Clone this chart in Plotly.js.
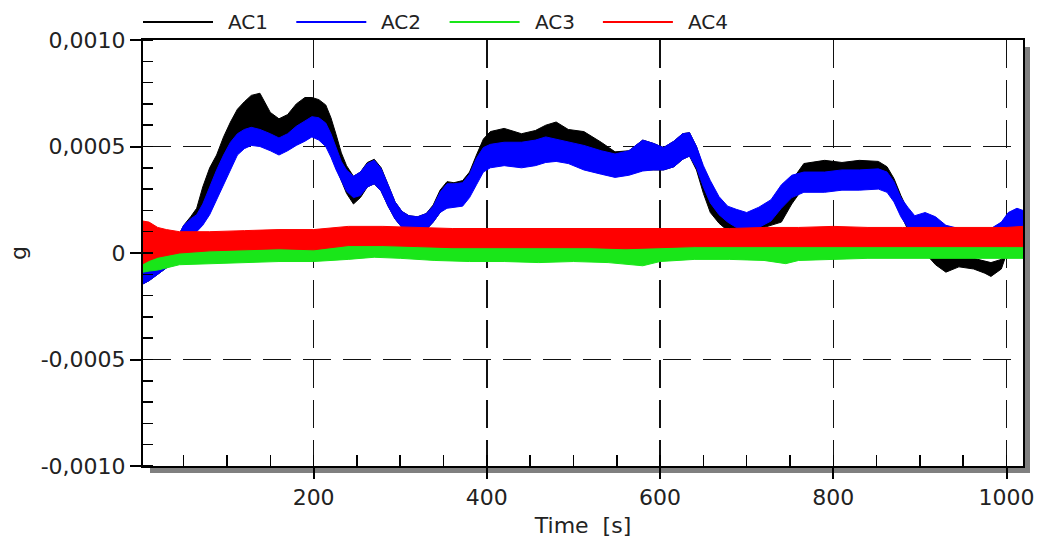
<!DOCTYPE html>
<html>
<head>
<meta charset="utf-8">
<script src="https://cdn.plot.ly/plotly-3.0.1.min.js"></script>
<style>
  html, body { margin: 0; padding: 0; background: #ffffff; }
  #chart { width: 1041px; height: 542px; }
</style>
</head>
<body>
<div id="chart"></div>
<script>
// Acceleration records of four channels; each channel is a noisy signal,
// drawn as the band between its upper and lower envelope (g) over time (s).
const seriesNames = ['AC1', 'AC2', 'AC3', 'AC4'];
const seriesColors = ['#000000', '#0000ff', '#19e619', '#ff0000'];

// Shared time base for AC1 and AC2
const timeAC12 = [
  3, 10, 20, 30, 40, 50, 58, 65, 72, 80,
  88, 96, 104, 112, 120, 128, 138, 150, 160, 170,
  180, 190, 198, 206, 214, 220, 226, 232, 238, 246,
  254, 262, 270, 278, 286, 294, 302, 310, 320, 330,
  338, 346, 354, 362, 372, 380, 388, 396, 404, 420,
  440, 456, 468, 480, 494, 512, 532, 548, 564, 580,
  592, 604, 616, 626, 634, 642, 650, 658, 668, 678,
  688, 700, 714, 728, 740, 752, 766, 790, 810, 830,
  852, 862, 870, 878, 886, 894, 906, 918, 930, 945,
  962, 975, 982, 994, 1002, 1012, 1019
];

const ac1Upper = [
  -0.6e-4, -0.6e-4, -0.3e-4, 0.0e-4, 0.5e-4, 1.3e-4, 1.7e-4, 2.1e-4, 3.1e-4, 4.0e-4,
  4.6e-4, 5.45e-4, 6.15e-4, 6.75e-4, 7.1e-4, 7.4e-4, 7.5e-4, 6.6e-4, 6.3e-4, 6.5e-4,
  7.0e-4, 7.3e-4, 7.3e-4, 7.2e-4, 6.95e-4, 6.35e-4, 5.55e-4, 4.7e-4, 4.1e-4, 3.6e-4,
  3.8e-4, 4.25e-4, 4.4e-4, 4.0e-4, 3.2e-4, 2.4e-4, 1.95e-4, 1.75e-4, 1.7e-4, 1.85e-4,
  2.25e-4, 2.95e-4, 3.35e-4, 3.3e-4, 3.4e-4, 3.8e-4, 4.6e-4, 5.35e-4, 5.7e-4, 5.85e-4,
  5.6e-4, 5.75e-4, 6.0e-4, 6.15e-4, 5.8e-4, 5.7e-4, 5.2e-4, 4.75e-4, 4.8e-4, 5.3e-4,
  5.15e-4, 4.95e-4, 5.25e-4, 5.6e-4, 5.65e-4, 5.0e-4, 4.0e-4, 3.2e-4, 2.3e-4, 1.8e-4,
  1.6e-4, 1.7e-4, 2.0e-4, 2.2e-4, 2.3e-4, 3.4e-4, 4.2e-4, 4.35e-4, 4.25e-4, 4.35e-4,
  4.3e-4, 4.05e-4, 3.5e-4, 2.7e-4, 2.0e-4, 1.4e-4, 0.9e-4, 0.2e-4, -0.2e-4, -0.15e-4,
  -0.25e-4, -0.4e-4, -0.45e-4, -0.3e-4, 1.0e-4, 1.6e-4, 1.6e-4
];
const ac1Lower = [
  -1.45e-4, -1.3e-4, -1.0e-4, -0.7e-4, -0.3e-4, 0.3e-4, 0.8e-4, 1.1e-4, 1.5e-4, 2.3e-4,
  3.0e-4, 3.6e-4, 4.3e-4, 4.9e-4, 5.2e-4, 5.4e-4, 5.4e-4, 5.2e-4, 5.0e-4, 5.2e-4,
  5.5e-4, 5.7e-4, 5.8e-4, 5.7e-4, 5.4e-4, 4.8e-4, 4.0e-4, 3.4e-4, 2.8e-4, 2.3e-4,
  2.6e-4, 3.1e-4, 3.25e-4, 2.9e-4, 2.2e-4, 1.6e-4, 1.2e-4, 1.0e-4, 1.0e-4, 1.1e-4,
  1.45e-4, 1.9e-4, 2.2e-4, 2.2e-4, 2.3e-4, 2.7e-4, 3.4e-4, 4.0e-4, 4.3e-4, 4.5e-4,
  4.4e-4, 4.5e-4, 4.7e-4, 4.8e-4, 4.6e-4, 4.3e-4, 4.0e-4, 3.7e-4, 3.7e-4, 3.9e-4,
  3.9e-4, 3.9e-4, 4.05e-4, 4.4e-4, 4.55e-4, 3.9e-4, 2.8e-4, 1.9e-4, 1.4e-4, 1.05e-4,
  1.0e-4, 0.95e-4, 1.1e-4, 1.3e-4, 1.45e-4, 2.3e-4, 3.1e-4, 3.2e-4, 3.2e-4, 3.2e-4,
  3.2e-4, 3.0e-4, 2.5e-4, 1.8e-4, 1.1e-4, 0.6e-4, 0.0e-4, -0.55e-4, -0.9e-4, -0.65e-4,
  -0.75e-4, -0.95e-4, -1.1e-4, -0.75e-4, 0.2e-4, 0.9e-4, 1.0e-4
];

const ac2Upper = [
  -0.6e-4, -0.6e-4, -0.3e-4, 0.0e-4, 0.5e-4, 1.3e-4, 1.6e-4, 1.8e-4, 2.3e-4, 3.1e-4,
  3.9e-4, 4.6e-4, 5.2e-4, 5.6e-4, 5.8e-4, 5.9e-4, 5.8e-4, 5.6e-4, 5.4e-4, 5.6e-4,
  5.95e-4, 6.2e-4, 6.4e-4, 6.35e-4, 6.1e-4, 5.6e-4, 4.9e-4, 4.3e-4, 3.9e-4, 3.6e-4,
  3.8e-4, 4.2e-4, 4.35e-4, 3.95e-4, 3.2e-4, 2.4e-4, 1.95e-4, 1.75e-4, 1.7e-4, 1.85e-4,
  2.2e-4, 2.85e-4, 3.25e-4, 3.25e-4, 3.3e-4, 3.7e-4, 4.45e-4, 4.95e-4, 5.1e-4, 5.2e-4,
  5.2e-4, 5.3e-4, 5.45e-4, 5.35e-4, 5.2e-4, 5.05e-4, 4.8e-4, 4.65e-4, 4.8e-4, 5.3e-4,
  5.15e-4, 4.95e-4, 5.25e-4, 5.6e-4, 5.65e-4, 5.0e-4, 4.1e-4, 3.4e-4, 2.65e-4, 2.2e-4,
  2.05e-4, 1.9e-4, 2.15e-4, 2.5e-4, 3.2e-4, 3.65e-4, 3.8e-4, 3.8e-4, 3.9e-4, 3.9e-4,
  3.95e-4, 3.8e-4, 3.35e-4, 2.6e-4, 2.15e-4, 1.75e-4, 1.9e-4, 1.7e-4, 1.3e-4, 1.15e-4,
  1.05e-4, 1.1e-4, 1.15e-4, 1.45e-4, 1.9e-4, 2.1e-4, 2.0e-4
];
const ac2Lower = [
  -1.45e-4, -1.3e-4, -1.0e-4, -0.7e-4, -0.3e-4, 0.3e-4, 0.8e-4, 1.0e-4, 1.3e-4, 1.8e-4,
  2.5e-4, 3.2e-4, 3.9e-4, 4.6e-4, 4.9e-4, 5.05e-4, 5.0e-4, 4.8e-4, 4.6e-4, 4.8e-4,
  5.05e-4, 5.25e-4, 5.45e-4, 5.3e-4, 5.0e-4, 4.5e-4, 3.9e-4, 3.4e-4, 2.9e-4, 2.6e-4,
  2.7e-4, 3.1e-4, 3.25e-4, 2.9e-4, 2.2e-4, 1.6e-4, 1.2e-4, 1.0e-4, 1.0e-4, 1.1e-4,
  1.45e-4, 1.9e-4, 2.1e-4, 2.15e-4, 2.2e-4, 2.6e-4, 3.2e-4, 3.8e-4, 4.0e-4, 4.1e-4,
  4.0e-4, 4.1e-4, 4.25e-4, 4.3e-4, 4.2e-4, 3.9e-4, 3.7e-4, 3.55e-4, 3.65e-4, 3.85e-4,
  3.9e-4, 3.9e-4, 4.05e-4, 4.4e-4, 4.55e-4, 4.0e-4, 3.1e-4, 2.35e-4, 1.8e-4, 1.45e-4,
  1.2e-4, 1.1e-4, 1.2e-4, 1.5e-4, 2.1e-4, 2.6e-4, 2.85e-4, 2.85e-4, 2.95e-4, 2.95e-4,
  3.0e-4, 2.85e-4, 2.4e-4, 1.7e-4, 1.2e-4, 0.95e-4, 0.9e-4, 0.8e-4, 0.6e-4, 0.5e-4,
  0.45e-4, 0.45e-4, 0.5e-4, 0.7e-4, 1.15e-4, 1.2e-4, 1.2e-4
];

const timeAC3 = [
  3, 10, 20, 30, 45, 80, 120, 160, 200, 240,
  270, 300, 340, 380, 420, 460, 500, 540, 580, 600,
  640, 680, 720, 745, 760, 800, 840, 880, 920, 960,
  1000, 1019
];
const ac3Upper = [
  0.0e-4, 0.0e-4, 0.1e-4, 0.2e-4, 0.2e-4, 0.2e-4, 0.3e-4, 0.3e-4, 0.3e-4, 0.45e-4,
  0.5e-4, 0.45e-4, 0.35e-4, 0.35e-4, 0.35e-4, 0.35e-4, 0.3e-4, 0.3e-4, 0.25e-4, 0.3e-4,
  0.35e-4, 0.4e-4, 0.4e-4, 0.35e-4, 0.4e-4, 0.45e-4, 0.45e-4, 0.45e-4, 0.45e-4, 0.4e-4,
  0.4e-4, 0.4e-4
];
const ac3Lower = [
  -0.9e-4, -0.85e-4, -0.8e-4, -0.7e-4, -0.55e-4, -0.5e-4, -0.45e-4, -0.4e-4, -0.4e-4, -0.3e-4,
  -0.2e-4, -0.25e-4, -0.35e-4, -0.4e-4, -0.4e-4, -0.45e-4, -0.4e-4, -0.45e-4, -0.6e-4, -0.4e-4,
  -0.3e-4, -0.3e-4, -0.35e-4, -0.5e-4, -0.35e-4, -0.3e-4, -0.25e-4, -0.25e-4, -0.25e-4, -0.25e-4,
  -0.25e-4, -0.25e-4
];

const timeAC4 = [
  3, 10, 20, 30, 45, 80, 120, 160, 200, 240,
  280, 320, 360, 400, 440, 480, 520, 560, 600, 640,
  680, 720, 760, 800, 840, 880, 920, 960, 1000, 1019
];
const ac4Upper = [
  1.5e-4, 1.45e-4, 1.2e-4, 1.1e-4, 1.0e-4, 1.0e-4, 1.05e-4, 1.1e-4, 1.1e-4, 1.25e-4,
  1.25e-4, 1.2e-4, 1.15e-4, 1.15e-4, 1.15e-4, 1.15e-4, 1.15e-4, 1.15e-4, 1.15e-4, 1.15e-4,
  1.15e-4, 1.2e-4, 1.2e-4, 1.25e-4, 1.2e-4, 1.2e-4, 1.2e-4, 1.2e-4, 1.2e-4, 1.25e-4
];
const ac4Lower = [
  -0.5e-4, -0.35e-4, -0.2e-4, -0.1e-4, 0.0e-4, 0.1e-4, 0.15e-4, 0.2e-4, 0.15e-4, 0.35e-4,
  0.35e-4, 0.3e-4, 0.25e-4, 0.25e-4, 0.25e-4, 0.25e-4, 0.25e-4, 0.2e-4, 0.25e-4, 0.3e-4,
  0.3e-4, 0.3e-4, 0.3e-4, 0.3e-4, 0.3e-4, 0.3e-4, 0.3e-4, 0.3e-4, 0.3e-4, 0.3e-4
];

// Axis tick labels (decimal comma)
const yTickValues = [-0.001, -0.0005, 0, 0.0005, 0.001];
const yTickLabels = ['-0,0010', '-0,0005', '0', '0,0005', '0,0010'];
const xTickValues = [200, 400, 600, 800, 1000];
const xTickLabels = ['200', '400', '600', '800', '1000'];

const channels = [
  { t: timeAC12, hi: ac1Upper, lo: ac1Lower },
  { t: timeAC12, hi: ac2Upper, lo: ac2Lower },
  { t: timeAC3,  hi: ac3Upper, lo: ac3Lower },
  { t: timeAC4,  hi: ac4Upper, lo: ac4Lower }
];

// Each channel becomes a closed polygon: upper envelope forward, lower envelope back.
const traces = channels.map((c, i) => ({
  type: 'scatter',
  mode: 'lines',
  name: seriesNames[i],
  x: c.t.concat(c.t.slice().reverse()),
  y: c.hi.concat(c.lo.slice().reverse()),
  fill: 'toself',
  fillcolor: seriesColors[i],
  line: { color: seriesColors[i], width: 1 },
  showlegend: false,
  hoverinfo: 'skip'
}));

// Plot frame in pixels
const W = 1041, H = 542;
const L = 143, R = 1023, T = 40, B = 466;
const px2x = px => (px - L) / (R - L);
const py2y = py => (B - py) / (B - T);

const font = 'DejaVu Sans, Verdana, sans-serif';
const textColor = '#222222';

// Legend row above the plot: a line sample then the channel name
const shapes = [];
const annotations = [];
seriesNames.forEach((name, i) => {
  const x0 = L + i * 153.3;
  shapes.push({
    type: 'line', xref: 'paper', yref: 'paper',
    x0: px2x(x0), x1: px2x(x0 + 70), y0: py2y(22), y1: py2y(22),
    line: { color: seriesColors[i], width: 2 }
  });
  annotations.push({
    xref: 'paper', yref: 'paper', x: px2x(x0 + 83), y: py2y(22),
    xanchor: 'left', yanchor: 'middle', showarrow: false,
    text: name, font: { family: font, size: 20, color: textColor }
  });
});

// Drop shadow along the right and bottom edges of the frame
shapes.push({
  type: 'rect', xref: 'paper', yref: 'paper', layer: 'below',
  x0: px2x(1024), x1: px2x(1030), y0: py2y(47), y1: py2y(473),
  fillcolor: '#808080', line: { width: 0 }
});
shapes.push({
  type: 'rect', xref: 'paper', yref: 'paper', layer: 'below',
  x0: px2x(150), x1: px2x(1030), y0: py2y(467), y1: py2y(473),
  fillcolor: '#808080', line: { width: 0 }
});

const axisCommon = {
  showline: true, linecolor: '#000000', linewidth: 2, mirror: true,
  ticks: 'outside', ticklen: 11, tickwidth: 2, tickcolor: '#000000',
  showgrid: true, gridcolor: '#111111', gridwidth: 1.5, griddash: '28px,12px',
  zeroline: false, automargin: false,
  tickfont: { family: font, size: 22, color: textColor }
};

const layout = {
  width: W, height: H,
  margin: { l: L, r: W - R, t: T, b: H - B, pad: 0 },
  paper_bgcolor: '#ffffff', plot_bgcolor: '#ffffff',
  showlegend: false,
  font: { family: font, color: textColor },
  xaxis: Object.assign({}, axisCommon, {
    range: [3, 1019],
    tickmode: 'array', tickvals: xTickValues, ticktext: xTickLabels,
    minor: { tickmode: 'linear', tick0: 0, dtick: 50, ticks: 'inside', ticklen: 11,
             tickwidth: 1.5, tickcolor: '#000000', showgrid: false },
    title: { text: 'Time\u00a0 [s]', font: { family: font, size: 22, color: textColor }, standoff: 8 }
  }),
  yaxis: Object.assign({}, axisCommon, {
    range: [-0.001, 0.001],
    tickmode: 'array', tickvals: yTickValues, ticktext: yTickLabels,
    minor: { tickmode: 'linear', tick0: 0, dtick: 0.0001, ticks: 'inside', ticklen: 10,
             tickwidth: 1.5, tickcolor: '#000000', showgrid: false },
    title: { text: 'g', font: { family: font, size: 22, color: textColor }, standoff: 8 }
  }),
  shapes: shapes,
  annotations: annotations
};

Plotly.newPlot('chart', traces, layout, { staticPlot: true, displayModeBar: false });
</script>
</body>
</html>
